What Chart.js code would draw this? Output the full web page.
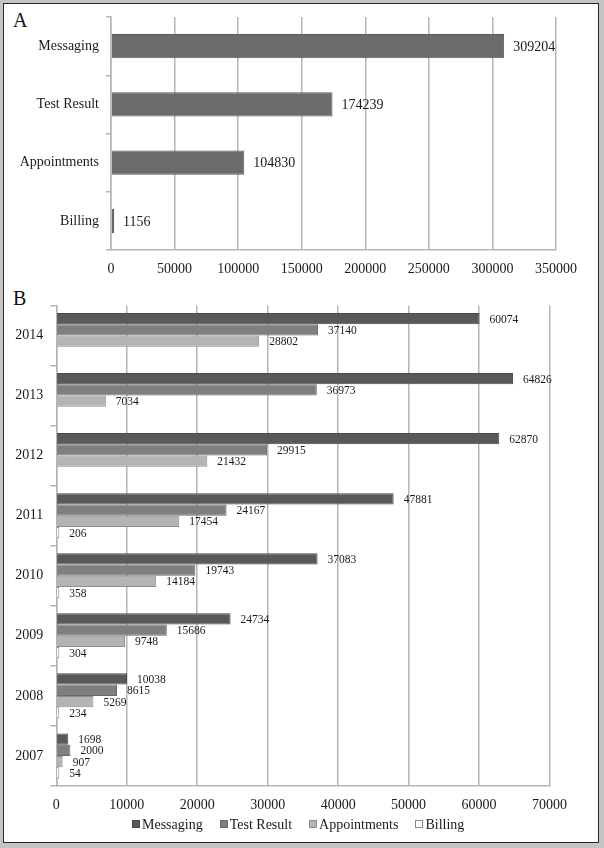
<!DOCTYPE html>
<html>
<head>
<meta charset="utf-8">
<script src="https://cdn.jsdelivr.net/npm/chart.js@4.4.1/dist/chart.umd.min.js"></script>
<style>
  html, body { margin: 0; padding: 0; background: #c4c4c4; }
  body { width: 604px; height: 848px; position: relative; overflow: hidden; font-family: "Liberation Serif", serif; }
  #frame { position: absolute; left: 3px; top: 3px; width: 594px; height: 838px; background: #fff; border: 1.5px solid #2a2a2a; }
  .panel { position: absolute; left: 0; width: 604px; }
  #wrapA { top: 0; height: 290px; }
  #wrapB { top: 290px; height: 554px; }
  .letter { position: absolute; left: 13px; font-size: 20px; line-height: 20px; color: #111; }
  #legendB { position: absolute; left: 132px; top: 817px; height: 16px; display: flex; justify-content: flex-start; font-size: 14px; line-height: 16px; color: #1a1a1a; }
  #legendB .item { display: flex; align-items: center; margin-right: 17px; }
  #legendB .box { width: 8px; height: 8px; margin-right: 2px; margin-top: -3px; border: 1px solid #777; box-sizing: border-box; }
</style>
</head>
<body>
<div id="frame"></div>
<div class="letter" style="top:10px">A</div>
<div class="letter" style="top:288px">B</div>
<div class="panel" id="wrapA"><canvas id="chartA"></canvas></div>
<div class="panel" id="wrapB"><canvas id="chartB"></canvas></div>
<div id="legendB"></div>
<script>
// Panel A: totals per message type
const totalCategories = ['Messaging', 'Test Result', 'Appointments', 'Billing'];
const totalValues = [309204, 174239, 104830, 1156];

// Panel B: per year, per message type
const years = ['2014', '2013', '2012', '2011', '2010', '2009', '2008', '2007'];
const messaging = [60074, 64826, 62870, 47881, 37083, 24734, 10038, 1698];
const testResult = [37140, 36973, 29915, 24167, 19743, 15686, 8615, 2000];
const appointments = [28802, 7034, 21432, 17454, 14184, 9748, 5269, 907];
const billing = [null, null, null, 206, 358, 304, 234, 54];

const serif = 'Liberation Serif';
const gridColor = '#b5b5b5';
const plainNumber = value => String(value);

// draws the value next to the end of each bar
function valueLabels(fontSize, offset) {
    return {
        id: 'valueLabels',
        afterDatasetsDraw(chart) {
            const ctx = chart.ctx;
            ctx.save();
            ctx.font = fontSize + 'px "' + serif + '"';
            ctx.fillStyle = '#1a1a1a';
            ctx.textBaseline = 'middle';
            ctx.textAlign = 'left';
            chart.data.datasets.forEach((ds, i) => {
                const meta = chart.getDatasetMeta(i);
                meta.data.forEach((bar, j) => {
                    const v = ds.data[j];
                    if (v === null || v === undefined) return;
                    ctx.fillText(String(v), bar.x + offset, bar.y + 1);
                });
            });
            ctx.restore();
        }
    };
}

// html legend built from the chart's datasets
const htmlLegend = {
    id: 'htmlLegend',
    afterUpdate(chart) {
        const box = document.getElementById('legendB');
        box.innerHTML = '';
        chart.data.datasets.forEach(ds => {
            const item = document.createElement('span');
            item.className = 'item';
            const swatch = document.createElement('span');
            swatch.className = 'box';
            swatch.style.background = ds.backgroundColor;
            swatch.style.borderColor = ds.borderColor;
            const text = document.createElement('span');
            text.textContent = ds.label;
            item.appendChild(swatch);
            item.appendChild(text);
            box.appendChild(item);
        });
    }
};

new Chart(document.getElementById('chartA'), {
    type: 'bar',
    data: {
        labels: totalCategories,
        datasets: [{
            label: 'Total',
            data: totalValues,
            backgroundColor: '#6b6b6d',
            borderColor: '#5c5c5e',
            borderWidth: 1,
            minBarLength: 3,
            barPercentage: 0.42,
            categoryPercentage: 1
        }]
    },
    options: {
        indexAxis: 'y',
        responsive: true,
        maintainAspectRatio: false,
        animation: false,
        layout: { padding: { left: 0, right: 48, top: 17, bottom: 0 } },
        plugins: { legend: { display: false }, tooltip: { enabled: false } },
        scales: {
            x: {
                min: 0,
                max: 350000,
                ticks: { stepSize: 50000, callback: plainNumber, color: '#1a1a1a', font: { family: serif, size: 14 }, padding: 11, maxRotation: 0 },
                grid: { color: gridColor, lineWidth: 1.5, drawTicks: false },
                border: { display: true, color: gridColor, width: 1.5 },
                afterFit(scale) { scale.height = 40; }
            },
            y: {
                ticks: { color: '#1a1a1a', font: { family: serif, size: 14 }, padding: 7 },
                grid: { drawOnChartArea: false, drawTicks: true, tickLength: 5, color: gridColor, lineWidth: 1.5, offset: true },
                border: { display: true, color: gridColor, width: 1.5 },
                afterFit(scale) { scale.width = 111; }
            }
        }
    },
    plugins: [valueLabels(14, 9)]
});

new Chart(document.getElementById('chartB'), {
    type: 'bar',
    data: {
        labels: years,
        datasets: [
            { label: 'Messaging', data: messaging, backgroundColor: '#59595b', borderColor: '#4a4a4c' },
            { label: 'Test Result', data: testResult, backgroundColor: '#7f7f81', borderColor: '#6a6a6c' },
            { label: 'Appointments', data: appointments, backgroundColor: '#b4b4b4', borderColor: '#8e8e8e' },
            { label: 'Billing', data: billing, backgroundColor: '#ffffff', borderColor: '#8a8a8a' }
        ].map(d => Object.assign(d, { borderWidth: 1, minBarLength: 3, barPercentage: 1, categoryPercentage: 0.75 }))
    },
    options: {
        indexAxis: 'y',
        responsive: true,
        maintainAspectRatio: false,
        animation: false,
        layout: { padding: { left: 0, right: 54.5, top: 13.3, bottom: 24 } },
        plugins: {
            tooltip: { enabled: false },
            legend: { display: false }
        },
        scales: {
            x: {
                min: 0,
                max: 70000,
                ticks: { stepSize: 10000, callback: plainNumber, color: '#1a1a1a', font: { family: serif, size: 14 }, padding: 11, maxRotation: 0 },
                grid: { color: gridColor, lineWidth: 1.5, drawTicks: false },
                border: { display: true, color: gridColor, width: 1.5 },
                afterFit(scale) { scale.height = 34; }
            },
            y: {
                ticks: { color: '#1a1a1a', font: { family: serif, size: 14 }, padding: 7 },
                grid: { drawOnChartArea: false, drawTicks: true, tickLength: 6, color: gridColor, lineWidth: 1.5, offset: true },
                border: { display: true, color: gridColor, width: 1.5 },
                afterFit(scale) { scale.width = 56.3; }
            }
        }
    },
    plugins: [valueLabels(11.5, 10), htmlLegend]
});
</script>
</body>
</html>
